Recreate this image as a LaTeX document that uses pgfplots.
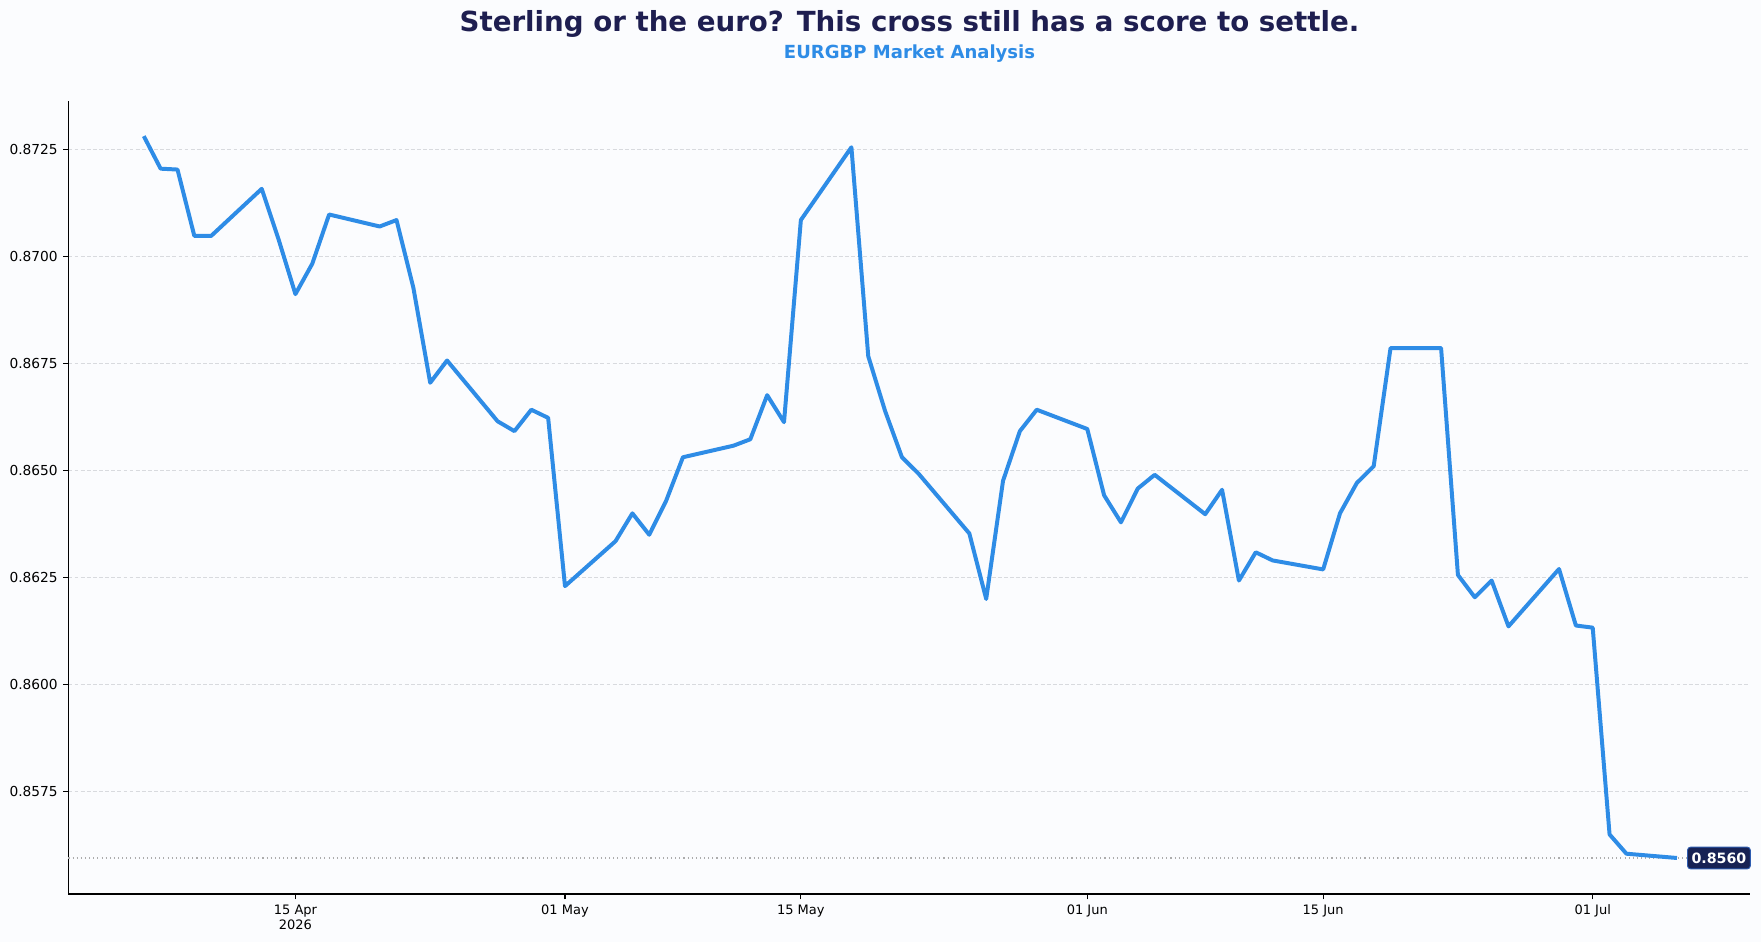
\documentclass[border=0pt]{standalone}
\usepackage{fontspec}
\setmainfont{DejaVu Sans}
\usepackage{pgfplots}
\pgfplotsset{compat=1.18}
\definecolor{bg}{HTML}{FBFCFE}
\definecolor{linec}{HTML}{2E8CE6}
\definecolor{titlec}{HTML}{1E1E50}
\definecolor{boxc}{HTML}{172254}
\definecolor{boxb}{HTML}{2E5CB0}
\definecolor{gridc}{HTML}{D8DADE}
\begin{document}
\begin{tikzpicture}[x=1pt,y=1pt]
\fill[bg] (0,0) rectangle (1152,616.4);
\node[font=\bfseries\fontsize{18.1}{20}\selectfont, text=titlec] at (595,601.0) {Sterling or the euro? This cross still has a score to settle.};
\node[font=\bfseries\fontsize{11.8}{14}\selectfont, text=linec] at (595,581.2) {EURGBP Market Analysis};
\begin{axis}[
  at={(44.8pt,31.6pt)}, anchor=south west,
  scale only axis, width=1099.9pt, height=518.7pt,
  xmin=-4.47, xmax=95.33, ymin=0.85511, ymax=0.87363,
  axis x line*=bottom, axis y line*=left,
  axis line style={black, line width=0.8pt},
  tick align=outside, major tick length=3.5pt,
  tick style={black, line width=0.8pt},
  xtick={9,25,39,56,70,86},
  xticklabels={{15 Apr\\2026},{01 May},{15 May},{01 Jun},{15 Jun},{01 Jul}},
  xticklabel style={align=center, font=\fontsize{8.5}{10}\selectfont},
  ytick={0.8575,0.86,0.8625,0.865,0.8675,0.87,0.8725},
  yticklabel style={font=\fontsize{9}{10}\selectfont, /pgf/number format/.cd, fixed, fixed zerofill, precision=4, assume math mode=true},
  scaled y ticks=false,
  ymajorgrids, grid style={gridc, dash pattern=on 2.5pt off 1.5pt, line width=0.6pt},
  clip=false,
]
\addplot[gray!65, dotted, line width=0.7pt] coordinates {(-4.47,0.85595) (95.33,0.85595)};
\addplot[linec, line width=2.6pt, line join=round] coordinates {
(0,0.87281) (1,0.87205) (2,0.87203) (3,0.87048) (4,0.87048)
(7,0.87158) (8,0.87040) (9,0.86912) (10,0.86983) (11,0.87098)
(14,0.87070) (15,0.87085) (16,0.86927) (17,0.86705) (18,0.86757)
(21,0.86615) (22,0.86592) (23,0.86642) (24,0.86623) (25,0.86230)
(28,0.86335) (29,0.86400) (30,0.86350) (31,0.86429) (32,0.86531)
(35,0.86558) (36,0.86573) (37,0.86676) (38,0.86613) (39,0.87085)
(42,0.87255) (43,0.86767) (44,0.86639) (45,0.86531) (46,0.86492)
(49,0.86353) (50,0.86200) (51,0.86476) (52,0.86592) (53,0.86642)
(56,0.86597) (57,0.86442) (58,0.86379) (59,0.86458) (60,0.86490)
(63,0.86398) (64,0.86455) (65,0.86243) (66,0.86309) (67,0.86290)
(70,0.86269) (71,0.86400) (72,0.86471) (73,0.86510) (74,0.86786)
(77,0.86786) (78,0.86256) (79,0.86204) (80,0.86243) (81,0.86136)
(84,0.86270) (85,0.86138) (86,0.86133) (87,0.85650) (88,0.85605)
(91,0.85595)
};
\node[fill=boxc, draw=boxb, line width=0.6pt, rounded corners=2pt, text=white, font=\bfseries\fontsize{9.3}{10}\selectfont, anchor=west, inner xsep=2.6pt, inner ysep=3.6pt] at (axis cs:91.6,0.85595) {0.8560};
\end{axis}
\end{tikzpicture}
\end{document}
